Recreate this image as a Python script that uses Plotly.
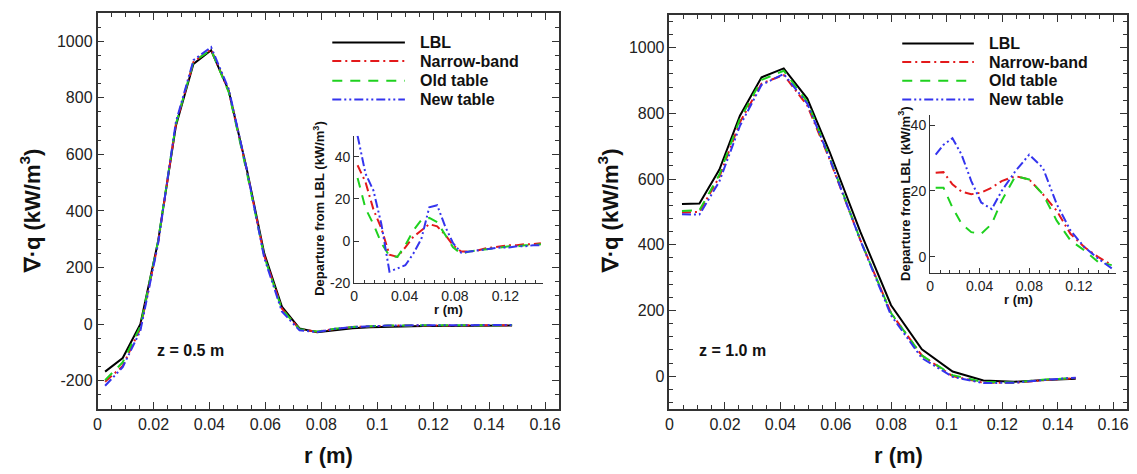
import plotly.graph_objects as go

FONT = "Arial, Liberation Sans, sans-serif"

# ---------------- z = 0.5 m (left panel) ----------------
r_a = [0.0027, 0.009, 0.0153, 0.0216, 0.028, 0.0343, 0.0406, 0.0469, 0.0533, 0.0596,
       0.0659, 0.0722, 0.0785, 0.0849, 0.0912, 0.0975, 0.1039, 0.1102, 0.1165, 0.1229,
       0.1292, 0.1355, 0.1419, 0.1482]
lbl_a = [-168, -120, 0, 290, 700, 920, 968, 825, 550, 250, 62, -15, -29, -22, -15, -11,
         -9, -8, -7, -6.5, -6, -5.5, -5, -5]
nb_a = [-204, -148, -15, 284, 706, 927, 971, 823, 545, 242, 55, -18, -27, -17, -10, -6.5,
        -5.5, -5, -4.5, -4.5, -4, -4, -3.5, -4]
old_a = [-198, -135, -8, 291, 707, 927, 970, 820, 540, 239, 53, -18, -26, -16, -10, -6.5,
         -5, -4.5, -4, -4, -3.5, -3.5, -3, -3.5]
new_a = [-218, -152, -24, 282, 714, 933, 979, 831, 549, 234, 45, -22, -28, -16.5, -10, -6.5,
         -5, -4.5, -4, -3.5, -3.5, -3, -3, -3]
# departures from LBL (inset)
d_nb_a = [36, 28, 15, 6, -6.5, -7.5, -3, 2, 5, 8, 7, 3, -2, -5, -5, -4.5, -3.5, -3, -2.5,
          -2, -2, -1.5, -1.5, -1]
d_old_a = [30, 15.5, 8, -1, -7, -7.5, -2, 5, 10, 11, 9, 3, -3, -6, -5, -4.5, -4, -3.5, -3,
           -2.5, -2.5, -2, -2, -1.5]
d_new_a = [50, 32, 24, 8, -14.5, -13, -11.5, -6, 1, 16, 17, 7, -1, -5.5, -5, -4.5, -4, -3.5,
           -3, -3, -2.5, -2.5, -2, -2]

# ---------------- z = 1.0 m (right panel) ----------------
r_b = [0.0045, 0.0108, 0.018, 0.0254, 0.0332, 0.0412, 0.0497, 0.0577, 0.0688, 0.0799,
       0.091, 0.1021, 0.1132, 0.1243, 0.1354, 0.1465]
lbl_b = [524, 526, 629, 793, 910, 937, 845, 684, 440, 216, 82, 14, -13, -17, -12, -8]
nb_b = [498, 500, 607, 773, 891, 917, 824, 661, 415, 192, 63, 0, -20, -20, -12, -6]
old_b = [503, 505, 614, 783, 902, 930, 835, 667, 415, 192, 63, 3, -18, -19, -10.5, -5.5]
new_b = [493, 492, 593, 762, 887, 920, 830, 664, 414, 185, 55, -2, -21, -20, -11.5, -4.5]
d_nb_b = [25.5, 25.7, 22, 19.8, 19, 19.5, 21, 23, 24.5, 23.5, 19, 14, 7, 3, 0, -2.5]
d_old_b = [21, 21, 15, 10, 7.5, 7, 10, 17, 24.5, 23.5, 19, 11, 5, 2, -1.5, -2.5]
d_new_b = [31, 34, 36, 31, 23, 16.5, 14.5, 20, 26, 31, 27, 16, 8, 3, -0.5, -3.5]

# tick labels (hyphen minus as in the original)
ytick_a_vals = [-200, 0, 200, 400, 600, 800, 1000]
ytick_a_text = ["-200", "0", "200", "400", "600", "800", "1000"]
ytick_ins_a_vals = [-20, 0, 20, 40]
ytick_ins_a_text = ["-20", "0", "20", "40"]

names = ["LBL", "Narrow-band", "Old table", "New table"]
colors = ["#000000", "#e3191b", "#1fd11f", "#3434ee"]
dashes = ["solid", "9px,4px,2px,4px", "10px,8px", "9px,3px,2px,3px,2px,3px"]

fig = go.Figure()

main_a = [lbl_a, nb_a, old_a, new_a]
main_b = [lbl_b, nb_b, old_b, new_b]
for i in range(4):
    fig.add_trace(go.Scatter(x=r_a, y=main_a[i], mode="lines", name=names[i],
                             showlegend=False,
                             line=dict(color=colors[i], dash=dashes[i], width=2),
                             xaxis="x", yaxis="y"))
for i in range(4):
    fig.add_trace(go.Scatter(x=r_b, y=main_b[i], mode="lines", name=names[i],
                             showlegend=False,
                             line=dict(color=colors[i], dash=dashes[i], width=2),
                             xaxis="x2", yaxis="y2"))

ins_a = [d_nb_a, d_old_a, d_new_a]
ins_b = [d_nb_b, d_old_b, d_new_b]
for i in range(3):
    fig.add_trace(go.Scatter(x=r_a, y=ins_a[i], mode="lines", showlegend=False,
                             name=names[i + 1],
                             line=dict(color=colors[i + 1], dash=dashes[i + 1], width=2),
                             xaxis="x3", yaxis="y3"))
    fig.add_trace(go.Scatter(x=r_b, y=ins_b[i], mode="lines", showlegend=False,
                             name=names[i + 1],
                             line=dict(color=colors[i + 1], dash=dashes[i + 1], width=2),
                             xaxis="x4", yaxis="y4"))

# page body has an 8px margin: lay the figure out in window pixels
OFF = 8
FW, FH = 1137 - OFF, 474 - OFF


def fx(x):
    return (x - OFF) / FW


def fy(y):
    return 1 - (y - OFF) / FH


def px(x0, x1):
    return [fx(x0), fx(x1)]


def py(top, bottom):
    return [fy(bottom), fy(top)]


axcol = "#333333"
main = dict(showline=True, linecolor=axcol, linewidth=1.6, mirror="allticks",
            ticks="inside", ticklen=7, tickwidth=1.2, tickcolor=axcol,
            showgrid=False, zeroline=False,
            tickfont=dict(size=16, family=FONT, color="#222222"))
inset = dict(showline=True, linecolor=axcol, linewidth=1.2, mirror=False,
             ticks="inside", ticklen=5, tickwidth=1, tickcolor=axcol,
             showgrid=False, zeroline=False,
             tickfont=dict(size=14, family=FONT, color="#222222"))


def minor(d):
    return dict(dtick=d, ticks="inside", ticklen=4, tickwidth=1, tickcolor=axcol,
                showgrid=False)


fig.update_layout(
    width=FW, height=FH, margin=dict(l=0, r=0, t=0, b=0),
    paper_bgcolor="white", plot_bgcolor="rgba(0,0,0,0)",
    font=dict(family=FONT, color="#111111"),
    showlegend=False,
    xaxis=dict(domain=px(94, 558), range=[0, 0.165], dtick=0.02, tick0=0,
               minor=minor(0.005), anchor="y", **main),
    yaxis=dict(domain=py(13, 416), range=[-300, 1100], tickmode="array",
               tickvals=ytick_a_vals, ticktext=ytick_a_text,
               minor=dict(dtick=50, tick0=0, ticks="inside", ticklen=4, tickwidth=1,
                          tickcolor=axcol),
               anchor="x", **main),
    xaxis2=dict(domain=px(669, 1129), range=[0, 0.165], dtick=0.02, tick0=0,
                minor=minor(0.005), anchor="y2", **main),
    yaxis2=dict(domain=py(15, 416), range=[-100, 1100], dtick=200, tick0=0,
                minor=minor(40), anchor="x2", **main),
    xaxis3=dict(domain=px(352, 542), range=[0, 0.15], dtick=0.04, tick0=0,
                minor=dict(dtick=0.008, ticks="inside", ticklen=3, tickcolor=axcol),
                anchor="y3", **inset),
    yaxis3=dict(domain=py(138, 288), range=[-20, 50], tickmode="array",
                tickvals=ytick_ins_a_vals, ticktext=ytick_ins_a_text,
                anchor="x3", **inset),
    xaxis4=dict(domain=px(931, 1118), range=[0, 0.15], dtick=0.04, tick0=0,
                minor=dict(dtick=0.008, ticks="inside", ticklen=3, tickcolor=axcol),
                anchor="y4", **inset),
    yaxis4=dict(domain=py(117, 278), range=[-5, 43], dtick=20, tick0=0,
                anchor="x4", **inset),
)

ann = []


def add(text, x, y, size, angle=0, xanchor="center"):
    ann.append(dict(text=text, x=fx(x), y=fy(y), xref="paper", yref="paper",
                    showarrow=False, textangle=angle, xanchor=xanchor, yanchor="middle",
                    font=dict(size=size, family=FONT, color="#111111", weight="bold")))


add("∇·q (kW/m<sup>3</sup>)", 27, 214, 22, -90)
add("∇·q (kW/m<sup>3</sup>)", 608, 214, 22, -90)
add("r (m)", 326, 463, 22)
add("r (m)", 899, 463, 22)
add("Departure from LBL (kW/m<sup>3</sup>)", 317, 212, 13, -90)
add("Departure from LBL (kW/m<sup>3</sup>)", 905, 197, 13, -90)
add("r (m)", 447, 315, 13)
add("r (m)", 1020, 305, 13)
add("z = 0.5 m", 187, 356, 16)
add("z = 1.0 m", 732, 356, 16)

# legends (one per panel): sample line + label
shapes = []
legend_rows = [(330, 403, 416, [43, 62, 82, 101]), (903, 975, 988, [44, 63, 82, 101])]
for (lx0, lx1, tx, rows) in legend_rows:
    for i, ry in enumerate(rows):
        shapes.append(dict(type="line", xref="paper", yref="paper",
                           x0=fx(lx0), x1=fx(lx1), y0=fy(ry), y1=fy(ry),
                           line=dict(color=colors[i], dash=dashes[i], width=2)))
        add(names[i], tx, ry, 16, xanchor="left")

fig.update_layout(annotations=ann, shapes=shapes)

fig.write_html("out.html")
